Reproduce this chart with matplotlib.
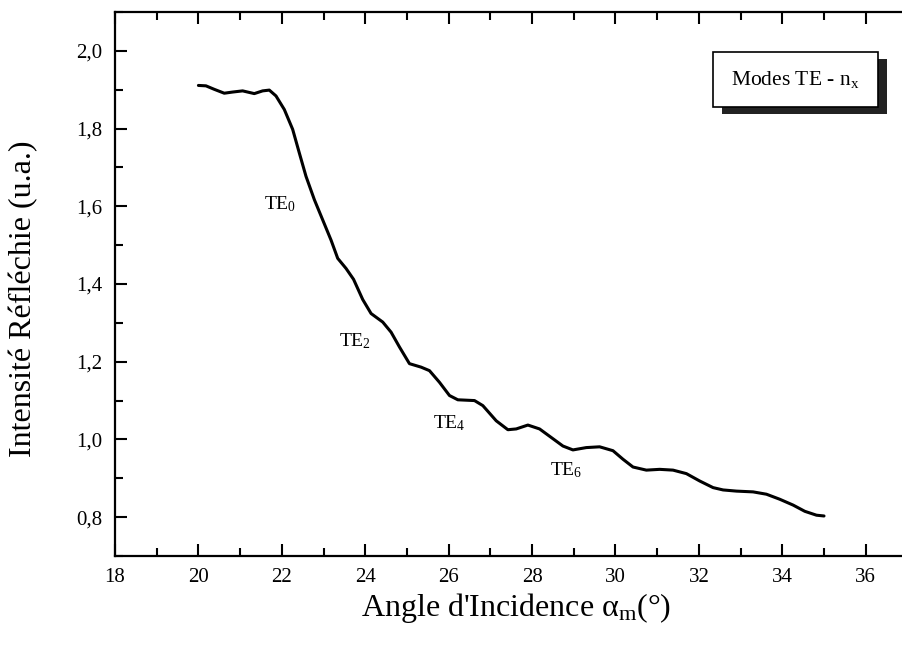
import matplotlib
matplotlib.use("Agg")
import matplotlib.pyplot as plt
from matplotlib.ticker import MultipleLocator, FuncFormatter
from matplotlib.patches import Rectangle

plt.rcParams['font.family'] = ['Liberation Serif', 'DejaVu Serif']
plt.rcParams['mathtext.fontset'] = 'custom'
plt.rcParams['mathtext.rm'] = 'Liberation Serif'
plt.rcParams['mathtext.it'] = 'Liberation Serif:italic'

# Data
angle = [20.0, 20.18, 20.38, 20.62, 20.82, 21.06, 21.34, 21.54, 21.70, 21.86,
         22.06, 22.26, 22.42, 22.58, 22.78, 22.98, 23.18, 23.34, 23.54, 23.72,
         23.94, 24.14, 24.42, 24.62, 24.82, 25.06, 25.34, 25.54, 25.78, 26.02,
         26.22, 26.62, 26.82, 27.14, 27.42, 27.62, 27.90, 28.18, 28.46, 28.74,
         28.98, 29.30, 29.62, 29.94, 30.18, 30.42, 30.74, 31.06, 31.38, 31.70,
         32.02, 32.34, 32.58, 32.90, 33.30, 33.62, 33.94, 34.26, 34.54, 34.82,
         35.0]
intensity = [1.911, 1.910, 1.901, 1.891, 1.894, 1.897, 1.890, 1.897, 1.899, 1.884,
             1.849, 1.798, 1.737, 1.677, 1.617, 1.565, 1.513, 1.466, 1.440, 1.412,
             1.360, 1.324, 1.302, 1.276, 1.238, 1.195, 1.186, 1.177, 1.147, 1.113,
             1.102, 1.100, 1.087, 1.048, 1.025, 1.027, 1.037, 1.027, 1.005, 0.983,
             0.973, 0.979, 0.981, 0.971, 0.949, 0.929, 0.921, 0.923, 0.921, 0.912,
             0.893, 0.876, 0.870, 0.867, 0.865, 0.859, 0.846, 0.831, 0.815, 0.805,
             0.803]

mode_labels = ['TE$_0$', 'TE$_2$', 'TE$_4$', 'TE$_6$']
mode_x = [21.96, 23.76, 26.02, 28.83]
mode_y = [1.606, 1.252, 1.043, 0.921]

x_ticks = [18, 20, 22, 24, 26, 28, 30, 32, 34, 36]
y_ticks = [0.8, 1.0, 1.2, 1.4, 1.6, 1.8, 2.0]

fig = plt.figure(figsize=(9.02, 6.47), dpi=100)
ax = fig.add_axes([115/902, 91/647, 787/902, 544/647])

ax.plot(angle, intensity, color='black', lw=2.2, solid_joinstyle='round',
        solid_capstyle='round')

for lab, mx, my in zip(mode_labels, mode_x, mode_y):
    ax.text(mx, my, lab, fontsize=14, ha='center', va='center')

ax.set_xlim(18, 36.87)
ax.set_ylim(0.7, 2.1)
ax.set_xticks(x_ticks)
ax.set_yticks(y_ticks)
ax.xaxis.set_minor_locator(MultipleLocator(1))
ax.yaxis.set_minor_locator(MultipleLocator(0.1))
ax.yaxis.set_major_formatter(FuncFormatter(lambda v, p: f"{v:.1f}".replace('.', ',')))
ax.xaxis.set_major_formatter(FuncFormatter(lambda v, p: f"{int(round(v))}"))

ax.tick_params(which='both', direction='in', top=True, right=False, width=1.5)
ax.tick_params(which='major', length=8.5)
ax.tick_params(which='minor', length=5.5)
ax.tick_params(axis='y', which='major', labelsize=15, pad=9)
ax.tick_params(axis='x', which='major', labelsize=15, pad=9)

for s in ['left', 'bottom', 'top']:
    ax.spines[s].set_linewidth(1.6)
ax.spines['right'].set_visible(False)

ax.set_xlabel("Angle d'Incidence α$_{\\mathrm{m}}$(°)", fontsize=23)
ax.set_ylabel("Intensité Réfléchie (u.a.)", fontsize=23)
ax.xaxis.set_label_coords(0.51, -0.065)
ax.yaxis.set_label_coords(-0.098, 0.472)

# Box with shadow
bx0, bx1, by0, by1 = 0.760, 0.9695, 0.8254, 0.9265
ax.add_patch(Rectangle((bx0 + 0.0114, by0 - 0.0129), bx1 - bx0, by1 - by0,
                       transform=ax.transAxes, facecolor='#222222', edgecolor='none', zorder=5))
ax.add_patch(Rectangle((bx0, by0), bx1 - bx0, by1 - by0, transform=ax.transAxes,
                       facecolor='white', edgecolor='black', lw=1.2, zorder=6))
ax.text((bx0 + bx1) / 2, (by0 + by1) / 2, 'Modes TE - n$_\\mathrm{x}$', transform=ax.transAxes,
        ha='center', va='center', fontsize=15.5, zorder=7)

fig.savefig('out.png', dpi=100)
